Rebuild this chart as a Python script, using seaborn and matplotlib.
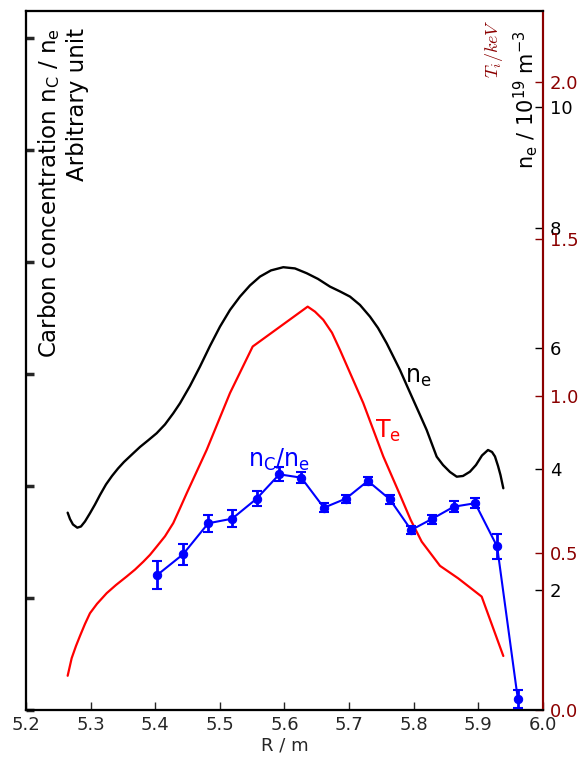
import numpy as np
import pandas as pd
import matplotlib
matplotlib.use("Agg")
import matplotlib.pyplot as plt
import seaborn as sns

# Carbon concentration profile (arbitrary unit) with uncertainties
r_carbon = [5.403, 5.443, 5.482, 5.519, 5.557, 5.592, 5.626, 5.661, 5.695,
            5.729, 5.763, 5.796, 5.828, 5.862, 5.895, 5.929, 5.961]
nc_ne = [1.205, 1.390, 1.667, 1.708, 1.887, 2.104, 2.074, 1.806, 1.887,
         2.045, 1.881, 1.607, 1.705, 1.815, 1.846, 1.460, 0.101]
nc_ne_err = [0.121, 0.092, 0.074, 0.074, 0.065, 0.062, 0.049, 0.042, 0.036,
             0.039, 0.042, 0.039, 0.040, 0.051, 0.046, 0.114, 0.080]

# Electron density profile, 1e19 m^-3
r_ne = [5.2645, 5.2681, 5.2727, 5.2794, 5.2851, 5.2913, 5.2990, 5.3068, 5.3145,
        5.3238, 5.3331, 5.3424, 5.3516, 5.3640, 5.3764, 5.3888, 5.4022, 5.4151,
        5.4279, 5.4383, 5.4538, 5.4692, 5.4847, 5.5002, 5.5157, 5.5311, 5.5466,
        5.5621, 5.5791, 5.5981, 5.6162, 5.6344, 5.6518, 5.6704, 5.6859, 5.7014,
        5.7168, 5.7323, 5.7447, 5.7581, 5.7679, 5.7787, 5.7896, 5.7993, 5.8097,
        5.8200, 5.8275, 5.8355, 5.8453, 5.8561, 5.8665, 5.8762, 5.8870, 5.8963,
        5.9056, 5.9149, 5.9211, 5.9257, 5.9304, 5.9342, 5.9386]
ne = [3.275, 3.170, 3.079, 3.026, 3.046, 3.129, 3.265, 3.411, 3.568,
      3.743, 3.884, 4.008, 4.116, 4.241, 4.365, 4.473, 4.593, 4.739,
      4.924, 5.090, 5.378, 5.698, 6.041, 6.362, 6.639, 6.860, 7.046,
      7.192, 7.295, 7.348, 7.328, 7.248, 7.154, 7.026, 6.946, 6.860,
      6.722, 6.528, 6.340, 6.086, 5.876, 5.643, 5.378, 5.145, 4.896,
      4.647, 4.432, 4.204, 4.066, 3.950, 3.872, 3.884, 3.955, 4.066,
      4.224, 4.315, 4.282, 4.207, 4.050, 3.900, 3.680]

# Temperature profile, keV
r_te = [5.2645, 5.2707, 5.2774, 5.2836, 5.2913, 5.2990, 5.3099, 5.3249, 5.3393,
        5.3558, 5.3687, 5.3815, 5.3919, 5.4022, 5.4151, 5.4279, 5.4383, 5.4487,
        5.4796, 5.5157, 5.5508, 5.6359, 5.6472, 5.6600, 5.6735, 5.6859, 5.7219,
        5.7529, 5.7787, 5.7953, 5.8123, 5.8406, 5.8689, 5.9051, 5.9386]
te = [0.109, 0.165, 0.204, 0.236, 0.274, 0.308, 0.338, 0.372, 0.398,
      0.425, 0.447, 0.472, 0.494, 0.520, 0.553, 0.595, 0.642, 0.690,
      0.828, 1.009, 1.157, 1.284, 1.268, 1.242, 1.201, 1.146, 0.977,
      0.807, 0.685, 0.605, 0.536, 0.459, 0.419, 0.361, 0.172]

x_ticks = [5.2, 5.3, 5.4, 5.5, 5.6, 5.7, 5.8, 5.9, 6.0]
ne_ticks = [2, 4, 6, 8, 10]
ti_ticks = [0.0, 0.5, 1.0, 1.5, 2.0]

sns.set_style("white")
plt.rcParams['font.family'] = ['DejaVu Sans']
plt.rcParams['mathtext.fontset'] = 'dejavusans'

DARKRED = '#8b0000'
FS = 13

# Left scale (arbitrary unit) and right temperature scale span the same frame
ARB_TOP = 6.24
TI_TOP = 2.225
ARB_TO_TI = TI_TOP / ARB_TOP

fig = plt.figure(figsize=(5.85, 7.62), dpi=100)
ax = fig.add_axes([0.0444, 0.0682, 0.8838, 0.9174])
ax_ne = ax.twinx()
ax_ti = ax.twinx()

df_c = pd.DataFrame({"R": r_carbon, "c": nc_ne, "err": nc_ne_err})
df_ne = pd.DataFrame({"R": r_ne, "ne": ne})
df_te = pd.DataFrame({"R": r_te, "te": te})

# Electron density
sns.lineplot(data=df_ne, x="R", y="ne", ax=ax_ne, color='black', lw=1.7,
             sort=False, estimator=None)
# Temperature
sns.lineplot(data=df_te, x="R", y="te", ax=ax_ti, color='red', lw=1.6,
             sort=False, estimator=None)
# Carbon concentration with error bars (drawn on the top axes layer)
c_scaled = df_c["c"].to_numpy() * ARB_TO_TI
err_scaled = df_c["err"].to_numpy() * ARB_TO_TI
eb = ax_ti.errorbar(df_c["R"], c_scaled, yerr=err_scaled,
                    fmt='none', ecolor='blue', elinewidth=2, capsize=3.8,
                    capthick=1.5, zorder=4)
for cap in eb[1]:
    cap.set_color('cyan')
sns.lineplot(x=df_c["R"].to_numpy(), y=c_scaled, ax=ax_ti, color='blue', lw=1.5,
             marker='o', markersize=6, markeredgecolor='blue', sort=False,
             estimator=None, zorder=5)

# Host axis: arbitrary unit, no labels
ax.set_xlim(5.2, 6.0)
ax.set_ylim(0, ARB_TOP)
ax.set_yticks(range(0, 7))
ax.set_yticklabels([])
ax.tick_params(axis='y', direction='in', length=6, width=2.5, left=True,
               right=False, labelleft=False)
ax.set_xticks(x_ticks)
ax.set_xticklabels([f"{v:.1f}" for v in x_ticks], fontsize=FS)
ax.tick_params(axis='x', direction='in', length=6, width=1, bottom=True, pad=4)
ax.set_xlabel("R / m", fontsize=FS, labelpad=2)
ax.set_ylabel("")

ax_ne.set_ylim(0, 11.6)
ax_ne.set_yticks(ne_ticks)
ax_ne.set_yticklabels([str(v) for v in ne_ticks], fontsize=FS, color='black')
ax_ne.tick_params(axis='y', direction='in', length=6, width=1, right=True, pad=5)
ax_ne.set_ylabel("")

ax_ti.set_ylim(0, TI_TOP)
ax_ti.set_yticks(ti_ticks)
ax_ti.set_yticklabels([f"{v:.1f}" for v in ti_ticks], fontsize=FS, color=DARKRED)
ax_ti.tick_params(axis='y', direction='in', length=6, width=1, right=True,
                  pad=5, colors=DARKRED)
ax_ti.tick_params(axis='y', labelcolor=DARKRED)
ax_ti.set_ylabel("")
ax_ti.set_xlabel("")

for a in (ax, ax_ne, ax_ti):
    for s in a.spines.values():
        s.set_linewidth(1.5)
        s.set_color('black')
    a.spines['right'].set_color(DARKRED)
ax_ne.spines['right'].set_visible(False)
ax_ne.tick_params(axis='y', colors='black')

# Axis titles drawn inside the frame
ax.text(0.020, 0.975, "Carbon concentration n$_{\\rm C}$ / n$_{\\rm e}$\nArbitrary unit",
        transform=ax.transAxes, rotation=90, ha='left', va='top',
        multialignment='right', fontsize=16.5, color='black', linespacing=1.2)
ax.text(0.938, 0.972, "n$_{\\rm e}$ / 10$^{19}$ m$^{-3}$", transform=ax.transAxes,
        rotation=90, ha='left', va='top', fontsize=15, color='black')
ax.text(0.883, 0.988, "$T_i/keV$", transform=ax.transAxes, rotation=90,
        ha='left', va='top', fontsize=13, color=DARKRED, math_fontfamily='cm')

# Curve labels
ax_ti.text(5.786, 1.04, "n$_{\\rm e}$", fontsize=17, color='black')
ax_ti.text(5.74, 0.865, "T$_{\\rm e}$", fontsize=17, color='red')
ax_ti.text(5.544, 0.775, "n$_{\\rm C}$/n$_{\\rm e}$", fontsize=17, color='blue')

fig.savefig("out.png", dpi=100)
